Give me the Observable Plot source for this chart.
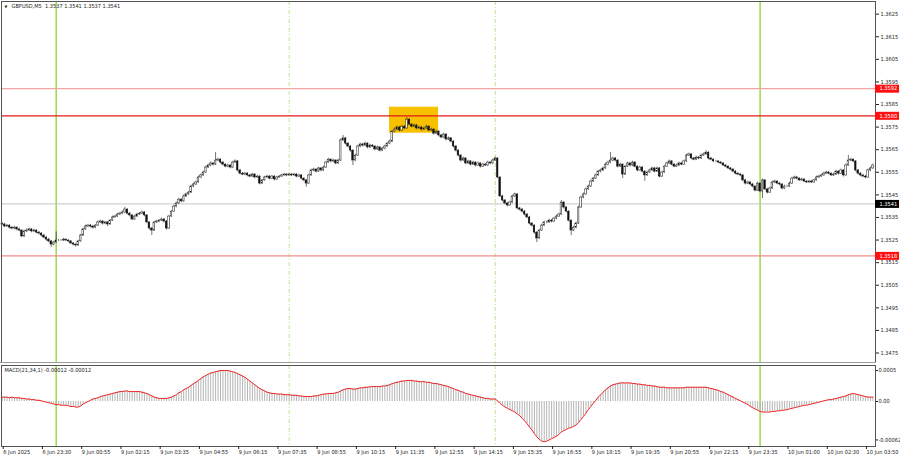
<!DOCTYPE html>
<html><head><meta charset="utf-8">
<script src="https://cdn.jsdelivr.net/npm/d3@7"></script>
<script src="https://cdn.jsdelivr.net/npm/@observablehq/plot@0.6"></script>
<style>
body{margin:0;background:#fff;}
#wrap{position:relative;width:900px;height:460px;overflow:hidden;background:#fff;}
#main{position:absolute;left:0;top:0;}
#sep{position:absolute;left:0;top:362px;width:876px;height:3px;background:#9a9a9a;}
#macd{position:absolute;left:0;top:363px;}
</style></head><body>
<div id="wrap"><div id="main"></div><div id="sep"></div><div id="macd"></div></div>
<script>
// ---- data (prices in pips above 1.3500, M5 bars, open = previous close) ----
const basePrice = 1.35;
const firstOpen = 32.2;
const closePips = [31.9,31.0,31.4,30.5,30.1,30.5,29.7,29.2,26.6,28.8,
29.2,29.7,28.8,29.2,28.3,27.9,27.0,26.1,25.2,24.4,
23.0,23.9,24.8,24.8,24.8,25.2,24.8,24.4,23.5,23.0,
22.6,24.4,27.0,29.7,31.0,31.4,31.0,30.5,31.4,32.8,
33.2,32.3,32.8,31.9,33.6,35.0,35.4,36.3,36.7,37.2,
38.5,36.7,35.9,34.1,35.4,36.3,36.7,37.2,35.9,32.8,
30.1,29.2,32.8,33.2,33.6,34.1,33.2,30.1,35.4,37.6,
39.8,41.2,42.9,42.1,44.3,45.2,46.0,48.7,49.6,50.5,
52.7,53.6,54.9,57.1,58.0,58.9,58.4,60.2,60.6,59.3,
58.4,57.5,58.0,57.1,59.3,59.8,55.8,54.4,54.0,54.4,
53.6,53.1,54.0,52.7,53.1,50.0,51.4,52.7,53.1,52.2,
53.1,51.8,52.7,53.1,53.6,54.0,53.6,54.0,53.6,54.0,
53.1,53.6,52.2,51.4,50.0,53.6,55.8,56.2,55.3,56.7,
55.8,57.1,59.3,60.6,59.8,60.2,58.9,60.2,69.1,70.0,
67.7,66.4,64.6,60.2,62.4,66.4,67.3,66.8,67.7,66.0,
66.8,66.4,65.1,66.0,64.6,65.5,66.4,67.7,68.6,73.0,
73.9,74.8,73.5,75.2,74.4,78.3,76.1,75.2,75.7,74.4,
74.8,73.9,74.4,75.2,73.5,73.9,72.1,73.0,71.3,70.4,
71.7,69.5,70.0,68.6,66.4,64.6,62.4,60.2,61.1,58.9,
59.8,58.4,59.3,58.0,58.9,57.5,58.4,58.0,59.3,58.9,
60.2,61.1,52.7,44.3,42.5,41.2,40.3,41.6,44.3,45.2,
39.0,38.5,37.6,36.3,35.0,32.3,31.4,28.3,25.7,29.2,
31.4,32.8,32.8,33.6,33.2,34.5,35.4,36.3,41.6,39.4,
37.6,33.6,29.2,30.5,32.3,39.4,43.8,45.2,47.4,48.7,
50.9,52.2,53.6,55.3,55.8,56.7,58.4,59.3,60.2,61.1,
60.2,57.5,58.4,54.0,57.5,58.9,58.0,59.3,57.5,55.8,
57.1,55.3,53.6,54.9,55.8,56.7,55.3,56.7,53.1,54.9,
57.5,58.9,59.8,58.4,57.5,58.0,58.9,58.4,59.8,62.4,
62.9,61.1,60.6,61.5,61.1,62.4,62.9,63.7,61.1,60.6,
59.8,59.8,59.3,58.9,58.0,57.5,56.7,56.2,55.3,54.4,
54.0,53.6,51.4,50.0,50.5,49.6,48.7,46.9,50.0,46.5,
51.4,47.4,46.0,47.8,50.5,50.9,50.0,49.6,47.8,48.7,
48.7,50.0,52.2,52.7,52.2,51.4,51.8,50.9,50.5,50.9,
50.5,51.4,52.7,53.1,53.6,54.4,54.9,54.4,53.6,54.0,
55.3,54.4,55.8,53.6,58.0,60.2,60.6,59.8,55.8,54.4,
53.6,53.1,52.7,55.8,56.7,58.0];
const highPips = [32.8,32.4,31.9,31.8,31.0,31.1,30.9,30.3,29.6,29.4,
30.0,30.3,30.1,29.8,29.6,28.9,28.3,27.5,26.6,25.8,
24.9,24.4,28.6,25.3,25.2,25.7,25.6,25.2,24.8,23.9,
23.5,24.9,27.5,30.3,31.6,32.0,31.9,31.5,31.9,33.4,
33.8,33.6,33.3,33.2,34.1,35.6,36.0,36.8,37.3,37.9,
39.4,38.9,37.2,36.3,35.9,36.8,37.2,37.8,37.6,36.2,
33.2,30.6,33.3,33.8,34.1,34.7,34.6,33.7,35.9,38.1,
40.4,41.8,43.5,43.4,44.9,45.8,46.6,49.3,50.2,51.1,
53.3,54.2,55.5,57.7,58.6,59.5,59.4,63.7,61.3,61.0,
59.8,58.9,58.6,58.5,59.9,60.5,60.2,56.3,54.9,55.0,
54.9,54.1,54.5,54.4,53.7,53.5,51.9,53.2,53.7,53.5,
53.6,53.5,53.2,53.6,54.1,54.5,54.4,54.5,54.4,54.5,
54.4,54.1,54.0,52.6,51.9,54.1,56.4,56.8,56.7,57.2,
57.1,57.7,59.9,61.2,61.0,60.8,60.6,60.8,69.7,71.3,
70.4,68.2,66.9,65.0,63.0,66.9,67.9,67.8,68.3,68.1,
67.4,67.3,66.8,66.6,66.4,66.0,67.0,68.3,69.3,73.6,
74.6,75.5,75.3,75.8,75.7,79.2,78.8,76.6,76.3,76.2,
75.4,75.3,75.0,75.9,75.6,74.5,74.3,73.6,73.4,71.8,
72.3,72.1,70.6,70.4,69.0,66.9,65.0,62.9,61.7,61.5,
60.4,60.2,59.9,59.7,59.5,59.3,59.0,58.9,59.9,59.8,
60.8,61.7,61.5,53.0,44.8,43.0,41.7,42.2,44.9,45.8,
45.6,39.5,39.0,38.1,36.8,35.5,32.8,31.8,28.8,29.8,
32.0,33.4,33.4,34.2,34.1,35.1,36.0,36.9,42.5,42.0,
39.9,38.0,34.0,31.1,32.9,40.0,44.4,45.8,48.0,49.3,
51.5,52.8,54.2,55.9,56.4,57.3,59.0,59.9,63.7,61.7,
61.6,60.6,59.0,58.8,58.1,59.5,59.4,59.9,59.7,57.9,
57.7,57.5,55.7,55.5,56.4,57.3,57.1,57.3,57.1,55.5,
58.1,59.5,60.4,60.2,58.9,58.6,59.5,59.4,60.4,63.0,
63.5,63.3,61.6,62.1,62.0,63.0,63.5,64.6,64.1,61.6,
61.0,60.3,60.2,59.8,59.3,58.5,57.9,57.1,56.7,55.8,
54.9,54.5,54.0,51.9,51.1,51.0,50.1,49.1,50.6,50.4,
52.0,51.8,47.9,48.4,51.1,51.5,51.3,50.5,50.0,49.3,
49.2,50.6,52.8,53.3,53.2,52.6,52.4,52.2,51.4,51.5,
51.4,52.0,53.3,53.7,54.2,55.0,55.5,55.4,54.8,54.6,
55.9,55.7,56.4,56.2,58.6,62.4,61.2,61.0,60.2,56.3,
54.9,54.1,53.6,56.4,57.3,58.6];
const lowPips = [31.3,30.5,30.6,29.9,29.5,29.6,29.0,28.7,26.0,26.2,
28.3,28.8,28.2,28.3,27.8,27.2,26.4,25.6,24.5,23.8,
21.7,22.5,23.6,24.3,24.4,24.4,24.3,23.9,23.0,22.4,
21.9,22.2,24.0,26.6,29.3,30.5,30.4,29.9,30.0,31.0,
32.3,31.7,31.8,31.0,31.5,33.2,34.6,35.0,35.8,36.3,
36.8,36.1,35.3,33.5,33.7,35.0,35.9,36.3,35.3,32.2,
29.4,27.0,28.8,32.3,32.7,33.2,32.6,29.4,29.7,35.0,
37.2,39.3,40.8,41.5,41.7,43.8,44.7,45.6,48.2,49.1,
50.1,52.2,53.2,54.5,56.6,57.5,57.8,58.0,59.7,58.7,
57.8,57.0,57.0,56.5,56.7,58.9,55.2,53.8,53.5,53.5,
53.0,52.6,52.7,52.1,52.2,49.4,49.6,51.0,52.3,51.7,
51.8,51.2,51.4,52.3,52.7,53.2,53.1,53.2,53.1,53.2,
52.6,52.7,51.7,50.8,48.4,49.6,53.2,55.3,54.7,54.9,
55.2,55.4,56.7,58.9,59.2,59.3,58.3,58.5,59.8,68.6,
67.1,65.8,63.9,58.0,59.8,62.0,65.9,66.2,66.3,65.4,
65.5,65.9,64.5,64.7,64.0,64.1,65.0,66.0,67.2,68.2,
72.5,73.4,72.9,73.1,73.8,74.0,75.5,74.6,74.7,73.8,
73.9,73.3,73.4,74.0,72.9,73.0,71.5,71.7,70.7,69.8,
70.0,68.9,69.0,68.0,65.8,64.0,61.8,59.5,59.8,58.3,
58.4,57.8,58.0,57.4,57.6,56.9,57.1,57.5,57.6,58.4,
58.5,59.8,52.2,43.8,41.9,40.6,39.7,39.9,41.2,43.9,
38.4,37.9,37.0,35.7,34.4,31.7,30.8,27.6,23.9,25.3,
28.8,31.0,32.2,32.3,32.6,32.8,34.0,35.0,35.9,38.8,
37.0,33.0,27.0,28.7,30.0,31.9,39.0,43.3,44.8,47.0,
48.3,50.5,51.8,53.2,54.8,55.3,56.3,57.9,58.8,59.7,
59.6,56.9,57.1,52.2,53.6,57.1,57.4,57.6,56.9,55.2,
55.4,54.7,51.0,53.2,54.5,55.3,54.7,54.9,52.5,52.7,
54.5,57.1,58.4,57.8,57.0,57.1,57.6,57.9,58.0,59.4,
62.0,60.5,60.1,60.2,60.6,60.7,62.0,62.5,60.5,60.1,
59.3,59.3,58.8,58.4,57.5,57.0,56.2,55.7,54.8,53.9,
53.5,53.0,50.8,49.4,49.5,49.0,48.1,46.3,46.5,45.9,
43.4,46.8,45.4,45.6,47.4,50.0,49.5,49.0,47.2,47.4,
48.2,48.3,49.6,51.8,51.7,50.9,51.0,50.4,50.0,50.0,
50.0,50.1,51.0,52.3,52.7,53.2,54.0,53.9,53.1,53.1,
53.6,53.8,54.0,52.9,53.2,57.6,59.7,59.2,55.2,53.8,
53.0,52.6,52.1,52.3,55.3,56.3];
// MACD(21,34,1) main value per bar, in units of 0.00001
const macdE5 = [7,7,7,6,7,6,6,6,5,5,
4,4,3,3,2,2,1,0,-1,-2,
-3,-4,-5,-5,-6,-6,-6,-7,-8,-8,
-9,-9,-7,-4,-2,0,2,4,5,6,
8,9,10,11,12,13,14,15,16,16,
17,17,16,16,16,16,16,15,14,13,
11,9,7,6,5,5,5,5,6,7,
9,11,14,16,19,21,23,26,29,31,
34,37,40,42,44,46,47,48,49,50,
50,50,50,49,48,47,45,43,41,39,
36,33,30,27,24,21,19,17,15,14,
13,13,12,12,12,11,11,11,10,10,
10,9,9,8,8,8,8,9,9,10,
11,12,12,13,13,13,14,15,17,19,
20,21,21,20,20,21,22,22,23,23,
24,24,24,24,24,25,25,26,27,29,
30,31,32,33,33,34,34,34,33,33,
32,32,32,31,31,30,29,29,28,27,
26,25,24,22,21,19,18,16,15,13,
12,11,10,9,8,7,6,5,5,4,
4,4,1,-3,-6,-9,-11,-13,-15,-17,
-20,-23,-27,-31,-36,-41,-46,-52,-57,-61,
-64,-65,-64,-62,-60,-58,-56,-53,-49,-47,
-45,-43,-42,-40,-38,-34,-29,-24,-19,-13,
-8,-3,2,7,11,15,19,22,25,27,
28,29,30,30,30,30,30,29,29,28,
28,27,27,26,26,25,25,24,23,23,
23,22,22,22,22,22,22,22,22,23,
23,23,23,23,23,23,23,23,22,21,
20,19,18,16,15,13,11,9,7,5,
3,1,-1,-3,-5,-8,-10,-12,-14,-16,
-17,-17,-17,-17,-16,-16,-15,-15,-14,-14,
-13,-12,-11,-10,-9,-8,-7,-6,-6,-5,
-4,-3,-2,-1,0,1,2,3,3,4,
5,6,7,8,9,11,12,13,12,11,
10,9,8,7,7,7];
const timeLabels = ["6 Jun 2025","6 Jun 23:30","9 Jun 00:55","9 Jun 02:15","9 Jun 03:35","9 Jun 04:55","9 Jun 06:15","9 Jun 07:35","9 Jun 08:55","9 Jun 10:15","9 Jun 11:35","9 Jun 12:55","9 Jun 14:15","9 Jun 15:35","9 Jun 16:55","9 Jun 18:15","9 Jun 19:35","9 Jun 20:55","9 Jun 22:15","9 Jun 23:35","10 Jun 01:00","10 Jun 02:30","10 Jun 03:50"];
const barsPerLabel = 16;
const priceTicks = [1.3625,1.3615,1.3605,1.3595,1.3585,1.3575,1.3565,1.3555,1.3545,1.3535,1.3525,1.3515,1.3505,1.3495,1.3485,1.3475];
const levelPrices = [1.3592, 1.3580, 1.3518];
const levelColors = ["#f5a3a3", "#e51919", "#f28b8b"];
const levelLabelColors = ["#ff1010", "#ff1010", "#ff1010"];
const currentPrice = 1.3541;
const dayStartBars = [22, 309];
const sessionBars = [117, 201];
const zone = {bar1: 157.9, bar2: 177.9, p1: 1.35723, p2: 1.35838};
const headerText = "GBPUSD,M5  1.3537 1.3541 1.3537 1.3541";
const macdTitle = "MACD(21,34,1) -0.00012 -0.00012";
const macdTickValues = [0.0005, 0, -0.00062];
const macdTickLabels = ["0.0005", "0.00", "-0.00062"];

// ---- build tables ----
const bars = closePips.map((c, i) => {
  const o = i === 0 ? firstOpen : closePips[i - 1];
  return {i, o: basePrice + o / 1e4, c: basePrice + c / 1e4,
          h: basePrice + highPips[i] / 1e4, l: basePrice + lowPips[i] / 1e4, up: c >= o};
});
const macdRows = macdE5.map((v, i) => ({i, v: v * 1e-5}));
const levels = levelPrices.map((p, k) => ({p, color: levelColors[k], bg: levelLabelColors[k], label: p.toFixed(4)}));
const labelTicks = timeLabels.map((_, k) => k * barsPerLabel);

const FONT = "Tahoma, 'DejaVu Sans Condensed', 'Liberation Sans', sans-serif";
const FS = 5.6;
const xDomain = [-0.29, 356.06];
const barW = 0.32;
const green = "#7ed321", green2 = "#b9e88f";

const main = Plot.plot({
  width: 900, height: 363,
  marginLeft: 1, marginRight: 25, marginTop: 1, marginBottom: 1,
  x: {type: "linear", domain: xDomain, axis: null, label: null},
  y: {domain: [1.34708, 1.36306], axis: null, label: null},
  style: {fontFamily: FONT, fontSize: FS + "px", color: "#222", background: "#fff", overflow: "visible"},
  marks: [
    Plot.rect([zone], {x1: "bar1", x2: "bar2", y1: "p1", y2: "p2", fill: "#f7c100"}),
    Plot.ruleX(dayStartBars, {stroke: green, strokeWidth: 1.2}),
    Plot.ruleX(sessionBars, {stroke: green2, strokeWidth: 1, strokeDasharray: "4,2,1,2"}),
    Plot.ruleY([currentPrice], {stroke: "#c4c4c4", strokeWidth: 1}),
    Plot.ruleY(levels, {y: "p", stroke: "color", strokeWidth: 1.3}),
    Plot.ruleX(bars, {x: "i", y1: "l", y2: "h", stroke: "#111", strokeWidth: 0.6}),
    Plot.rect(bars, {x1: d => d.i - barW, x2: d => d.i + barW, y1: "o", y2: "c",
      fill: d => d.up ? "#fff" : "#111", stroke: "#111", strokeWidth: 0.45}),
    Plot.frame({stroke: "#555", strokeWidth: 1}),
    Plot.axisY(priceTicks, {anchor: "right", tickSize: 3, tickPadding: 2, label: null,
      tickFormat: d => d.toFixed(4), fill: "#222", fontSize: FS}),
    Plot.ruleY(levels, {y: "p", x1: xDomain[1], x2: xDomain[1] + 9.8, stroke: "bg", strokeWidth: 8}),
    Plot.text(levels, {y: "p", x: xDomain[1], text: "label", dx: 4, textAnchor: "start", fill: "#fff", fontSize: FS}),
    Plot.ruleY([currentPrice], {x1: xDomain[1], x2: xDomain[1] + 9.8, stroke: "#000", strokeWidth: 8}),
    Plot.text([currentPrice], {y: d => d, x: xDomain[1], text: d => d.toFixed(4), dx: 4, textAnchor: "start", fill: "#fff", fontSize: FS}),
    Plot.text(["▼"], {frameAnchor: "top-left", dx: 3, dy: 4, fontSize: 4, fill: "#222"}),
    Plot.text([headerText], {frameAnchor: "top-left", dx: 10, dy: 3, fontSize: FS, fill: "#222"})
  ]
});
document.getElementById("main").appendChild(main);

const macd = Plot.plot({
  width: 900, height: 97,
  marginLeft: 1, marginRight: 25, marginTop: 2, marginBottom: 14,
  x: {type: "linear", domain: xDomain, axis: null, label: null},
  y: {domain: [-0.000726, 0.000581], axis: null, label: null},
  style: {fontFamily: FONT, fontSize: FS + "px", color: "#222", background: "#fff", overflow: "visible"},
  marks: [
    Plot.ruleX(dayStartBars, {stroke: green, strokeWidth: 1.2}),
    Plot.ruleX(sessionBars, {stroke: green2, strokeWidth: 1, strokeDasharray: "4,2,1,2"}),
    Plot.ruleX(macdRows, {x: "i", y1: 0, y2: "v", stroke: "#adadad", strokeWidth: 0.9}),
    Plot.line(macdRows, {x: "i", y: "v", stroke: "#ee2020", strokeWidth: 1}),
    Plot.frame({stroke: "#555", strokeWidth: 1}),
    Plot.axisY(macdTickValues, {anchor: "right", tickSize: 2, tickPadding: 1, label: null,
      tickFormat: (d, k) => macdTickLabels[k], fill: "#222", fontSize: FS}),
    Plot.axisX(labelTicks, {anchor: "bottom", tickSize: 3, tickPadding: 1, label: null,
      tickFormat: (d, k) => timeLabels[k], textAnchor: "start", dx: 1, fill: "#222", fontSize: FS}),
    Plot.text([macdTitle], {frameAnchor: "top-left", dx: 3, dy: 3, fontSize: FS, fill: "#222"})
  ]
});
document.getElementById("macd").appendChild(macd);
</script>
</body></html>
